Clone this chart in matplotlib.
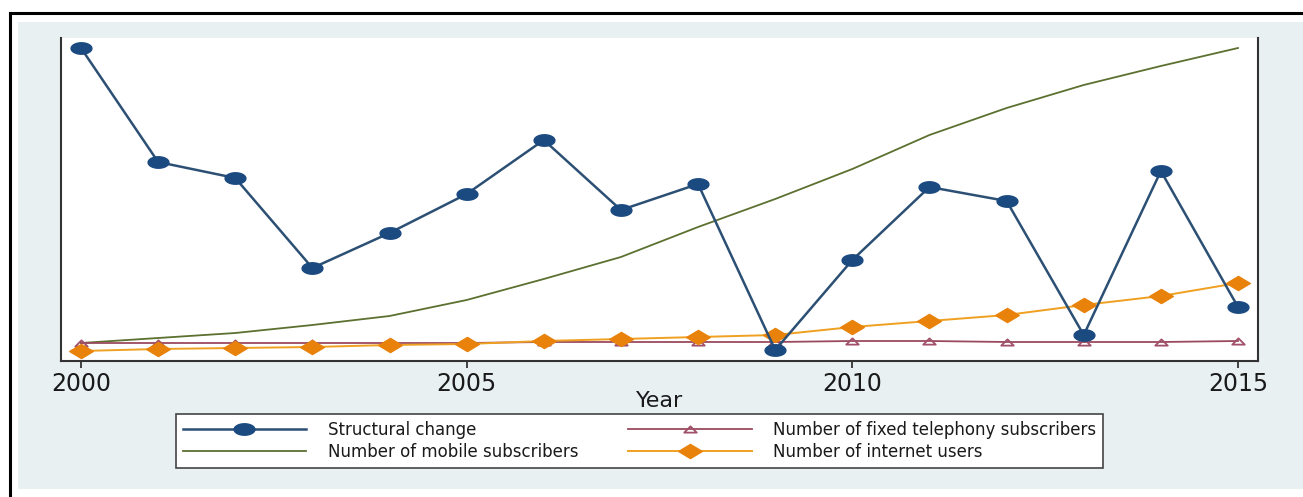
import matplotlib
matplotlib.use("Agg")
import matplotlib.pyplot as plt
from matplotlib.path import Path
from matplotlib.lines import Line2D
from matplotlib.patches import Rectangle
import numpy as np

years = list(range(2000, 2016))
structural = [313, 199, 183, 93, 128, 167, 221, 151, 177, 11, 101, 174, 160, 26, 190, 54]
mobile = [18, 23, 28, 36, 45, 61, 82, 104, 134, 162, 192, 226, 253, 276, 295, 313]
fixed = [18, 18, 18, 18, 18, 18, 19, 19, 19, 19, 20, 20, 19, 19, 19, 20]
internet = [10, 12, 13, 14, 16, 17, 20, 22, 24, 26, 34, 40, 46, 56, 65, 78]
xticks = [2000, 2005, 2010, 2015]
labels = ["Structural change", "Number of mobile subscribers",
          "Number of fixed telephony subscribers", "Number of internet users"]

W, H = 1303, 497
fig = plt.figure(figsize=(W / 100, H / 100), dpi=100)
fig.patch.set_facecolor("white")

# background panel
fig.patches.append(Rectangle((18 / W, 1 - 489 / H), 1, (489 - 22) / H,
                             transform=fig.transFigure, facecolor="#e8f0f2",
                             edgecolor="none", zorder=-10))
# outer black border (top & left)
fig.lines.append(Line2D([10 / W, 1], [1 - 12.5 / H, 1 - 12.5 / H], transform=fig.transFigure,
                        color="black", lw=2.2, zorder=-5))
fig.lines.append(Line2D([10 / W, 10 / W], [0, 1 - 12.5 / H], transform=fig.transFigure,
                        color="black", lw=2.2, zorder=-5))

ax = fig.add_axes([61 / W, 1 - 361 / H, (1258 - 61) / W, (361 - 38) / H])
ax.set_facecolor("white")

# horizontally stretched markers
t = np.linspace(0, 2 * np.pi, 40)
ell = Path(np.column_stack([np.cos(t), 0.55 * np.sin(t)]), closed=True)
dia = Path([(-1, 0), (0, 0.6), (1, 0), (0, -0.6), (-1, 0)], closed=True)
tri = Path([(-1, -0.5), (0, 0.5), (1, -0.5), (-1, -0.5)], closed=True)

ax.plot(years, mobile, color="#5c7030", lw=1.3, zorder=2, label=labels[1])
ax.plot(years, fixed, color="#9a4a5e", lw=1.3, marker=tri, markersize=9,
        markerfacecolor="none", markeredgecolor="#a0506a", markeredgewidth=1.3,
        zorder=3, label=labels[2])
ax.plot(years, internet, color="#f0a020", lw=1.4, marker=dia, markersize=17,
        markerfacecolor="#e8820a", markeredgecolor="#e8820a", zorder=4, label=labels[3])
ax.plot(years, structural, color="#2c4f74", lw=1.8, marker=ell, markersize=15,
        markerfacecolor="#1b4a80", markeredgecolor="#1b4a80", zorder=5, label=labels[0])

ax.set_xlim(2000 - 20 / 77.13, 2015 + 20 / 77.13)
ax.set_ylim(0, 323)
ax.set_yticks([])
ax.set_xticks(xticks)
ax.set_xticklabels([str(x) for x in xticks], fontsize=17, color="#1a1a1a")
ax.tick_params(axis="x", length=5, width=1.3, color="#333333", pad=3)
ax.set_xlabel("Year", fontsize=16, color="#1a1a1a", labelpad=-4)
for s in ["left", "bottom", "right"]:
    ax.spines[s].set_color("#333333")
    ax.spines[s].set_linewidth(1.5)
ax.spines["top"].set_visible(False)

h, l = ax.get_legend_handles_labels()
hmap = dict(zip(l, h))
handles = [hmap[x] for x in labels]
leg = fig.legend(handles, labels, ncol=2, loc="upper left",
                 bbox_to_anchor=(176 / W, 1 - 414 / H),
                 fontsize=12, frameon=True, fancybox=False, handlelength=7.4,
                 handletextpad=1.3, borderpad=0.4, labelspacing=0.25, numpoints=1,
                 markerscale=1.0, columnspacing=3.0, borderaxespad=0, framealpha=1)
leg.get_frame().set_edgecolor("#444444")
leg.get_frame().set_linewidth(1.2)
leg.get_frame().set_facecolor("white")
for txt in leg.get_texts():
    txt.set_color("#1a1a1a")

fig.savefig("out.png", dpi=100)
